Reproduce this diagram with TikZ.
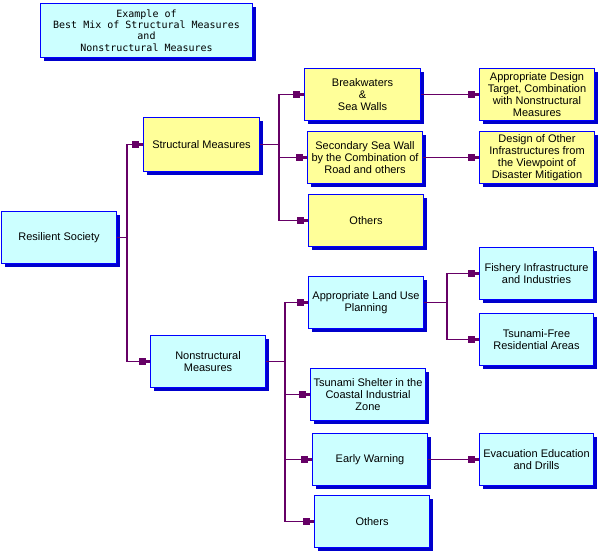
\documentclass[tikz,border=0pt]{standalone}
\usepackage{fontspec}
\setmainfont{Liberation Sans}
\newfontfamily\titlefont{DejaVu Sans Mono}
\usetikzlibrary{arrows.meta,shadows}
\definecolor{boxcyan}{HTML}{CCFFFF}
\definecolor{boxyellow}{HTML}{FFFF99}
\definecolor{boxblue}{HTML}{0000FF}
\definecolor{shadowblue}{HTML}{0000CC}
\definecolor{connpurple}{HTML}{660066}
\begin{document}
\begin{tikzpicture}[x=1pt,y=-1pt,
  box/.style={draw=boxblue, line width=1pt,
    general shadow={fill=shadowblue, shadow xshift=3.5pt, shadow yshift=-3.5pt},
    anchor=north west, inner sep=0pt, align=center,
    font=\fontsize{11}{12}\selectfont,
    minimum width=115pt, minimum height=52pt},
  cyanbox/.style={box, fill=boxcyan},
  yellowbox/.style={box, fill=boxyellow},
  conn/.style={draw=connpurple, line width=1.2pt,
    -{Rectangle[length=7pt,width=7pt] Rectangle[length=4.5pt,width=3pt]}}]
\useasboundingbox (0,0) rectangle (599,553);
\fill[white] (0,0) rectangle (599,553);

\node[cyanbox, minimum width=212pt, minimum height=54pt,
  font=\titlefont\fontsize{10}{11.3}\selectfont] (title) at (40,3)
  {Example of\\Best Mix of Structural Measures\\and\\Nonstructural Measures};

\node[cyanbox] (RS) at (1,211) {Resilient Society};
\node[yellowbox, minimum width=116pt, minimum height=54pt] (SM) at (143,117) {Structural Measures};
\node[yellowbox, minimum width=116pt] (BW) at (304,68) {Breakwaters\\\&\\Sea Walls};
\node[yellowbox] (AD) at (479,68) {Appropriate Design\\Target, Combination\\with Nonstructural\\Measures};
\node[yellowbox] (SS) at (307,131) {Secondary Sea Wall\\by the Combination of\\Road and others};
\node[yellowbox] (DO) at (479,131) {Design of Other\\Infrastructures from\\the Viewpoint of\\Disaster Mitigation};
\node[yellowbox] (OT1) at (308,194) {Others};

\node[cyanbox] (NS) at (150,335) {Nonstructural\\Measures};
\node[cyanbox] (LU) at (308,276) {Appropriate Land Use\\Planning};
\node[cyanbox] (TS) at (310,368) {Tsunami Shelter in the\\Coastal Industrial\\Zone};
\node[cyanbox] (EW) at (312,433) {Early Warning};
\node[cyanbox] (OT2) at (314,495) {Others};
\node[cyanbox, minimum width=114pt] (FI) at (479,247) {Fishery Infrastructure\\and Industries};
\node[cyanbox, minimum width=114pt] (TF) at (479,313) {Tsunami-Free\\Residential Areas};
\node[cyanbox, minimum width=114pt] (EV) at (479,433) {Evacuation Education\\and Drills};

\coordinate (b1) at (127,0);
\coordinate (b2) at (279,0);
\coordinate (b3) at (285,0);
\coordinate (b4) at (447,0);

\draw[conn] (RS.east) -- (RS.east -| b1) |- (SM.west);
\draw[conn] (RS.east -| b1) |- (NS.west);

\draw[conn] (SM.east) -- (SM.east -| b2) |- (BW.west);
\draw[conn] (SM.east -| b2) |- (SS.west);
\draw[conn] (SM.east -| b2) |- (OT1.west);

\draw[conn] (BW.east) -- (BW.east -| AD.west);
\draw[conn] (SS.east) -- (SS.east -| DO.west);

\draw[conn] (NS.east) -- (NS.east -| b3) |- (LU.west);
\draw[conn] (NS.east -| b3) |- (TS.west);
\draw[conn] (NS.east -| b3) |- (EW.west);
\draw[conn] (NS.east -| b3) |- (OT2.west);

\draw[conn] (LU.east) -- (LU.east -| b4) |- (FI.west);
\draw[conn] (LU.east -| b4) |- (TF.west);
\draw[conn] (EW.east) -- (EW.east -| EV.west);
\end{tikzpicture}
\end{document}
